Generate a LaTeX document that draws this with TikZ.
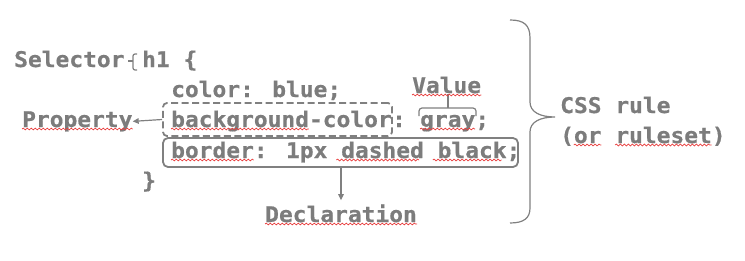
\documentclass[tikz,border=0pt]{standalone}
\usepackage{fontspec}
\newfontfamily\codefont[FakeStretch=1.06, BoldFeatures={FakeBold=0.6}]{DejaVu Sans Mono}
\usetikzlibrary{arrows.meta,fit,calc,decorations.pathmorphing}
\definecolor{ink}{RGB}{124,124,124}
\definecolor{rule}{RGB}{128,128,128}
\definecolor{spell}{RGB}{232,60,60}
\tikzset{
  code/.style={anchor=base west, inner sep=0pt, text=ink,
    font=\codefont\bfseries\fontsize{21.6}{25}\selectfont},
  dashbox/.style={draw=rule, line width=1.8pt, dash pattern=on 7pt off 3.5pt,
    rounded corners=4pt, inner sep=0pt},
  solidbox/.style={draw=rule, line width=1.8pt, rounded corners=5pt, inner sep=0pt},
  brace/.style={draw=rule, line width=1.2pt},
  pointer/.style={draw=rule, line width=1.2pt, -{Triangle[length=6pt,width=5.5pt]}},
  squig/.style={draw=spell, line width=0.7pt,
    decorate, decoration={snake, segment length=4pt, amplitude=0.9pt}},
}
% one character cell of the code font
\newcommand{\cw}{13.78}
\begin{document}
\begin{tikzpicture}[x=1pt,y=-1pt]
  \useasboundingbox (0,0) rectangle (745,260);

  % code lines
  \node[code] (sel)   at (14,67)  {Selector};
  \node[code] (h1)    at (142,67) {h1 \{};
  \node[code] (color) at (171,97) {color: blue;};
  \node[code] (bgc)   at (171,127) {background-color};
  \node[code] (colon) at (bgc.base east) {:};
  \node[code] (gray)  at (420,127) {gray;};
  \node[code] (bord)  at (171,158) {border: 1px dashed black;};
  \node[code] (close) at (142,188) {\}};

  % labels
  \node[code] (val)   at (412,93)  {Value};
  \node[code] (prop)  at (22,127)  {Property};
  \node[code] (decl)  at (265,222) {Declaration};
  \node[code] (css)   at (560,113) {CSS rule};
  \node[code] (set)   at (560,143) {(or ruleset)};

  % boxes round the property and the declaration
  \node[dashbox, fit={(163,103) (392,136)}] (bgcbox) {};
  \node[solidbox, fit={(163,138) (518,167)}] (bordbox) {};

  % selector bracket
  \coordinate (seltip) at (128,61);
  \draw[brace, rounded corners=2pt] (137,54) -- (133,54) -- (133,70) -- (137,70);
  \draw[brace] (seltip) -- (133,61);

  % value bracket
  \coordinate (valtip) at (448,108);
  \draw[brace, rounded corners=3pt] (419,116) |- (valtip) -| (476,116);
  \draw[brace] (valtip) -- (valtip |- val.south);

  % pointers
  \draw[pointer] (bgcbox.west) -- (prop.east);
  \draw[pointer, shorten >=4pt] (bordbox.south -| decl.north) -- (decl.north);

  % brace round the whole rule
  \coordinate (ruletip) at (555,117);
  \draw[brace] (510,20) .. controls (524,20) and (530,25) .. (530,38)
    -- (530,102) .. controls (530,112) and (540,117) .. (ruletip)
    .. controls (540,117) and (530,122) .. (530,132)
    -- (530,208) .. controls (530,218) and (524,223) .. (510,223);

  % spelling marks
  \draw[squig] ($(prop.base west)+(0,2)$) -- ($(prop.base east)+(0,2)$);
  \draw[squig] ($(val.base west)+(0,2)$) -- ($(val.base east)+(0,2)$);
  \draw[squig] ($(bgc.base west)+(0,2)$) -- ($(bgc.base west)+(10*\cw,2)$);
  \draw[squig] ($(gray.base west)+(0,2)$) -- ($(gray.base west)+(4*\cw,2)$);
  \draw[squig] ($(bord.base west)+(0,2)$) -- ($(bord.base west)+(6*\cw,2)$);
  \draw[squig] ($(bord.base west)+(12*\cw,2)$) -- ($(bord.base west)+(18*\cw,2)$);
  \draw[squig] ($(bord.base west)+(19*\cw,2)$) -- ($(bord.base west)+(24*\cw,2)$);
  \draw[squig] ($(decl.base west)+(0,2)$) -- ($(decl.base east)+(0,2)$);
  \draw[squig] ($(set.base west)+(\cw,2)$) -- ($(set.base west)+(3*\cw,2)$);
  \draw[squig] ($(set.base west)+(4*\cw,2)$) -- ($(set.base west)+(11*\cw,2)$);
\end{tikzpicture}
\end{document}
